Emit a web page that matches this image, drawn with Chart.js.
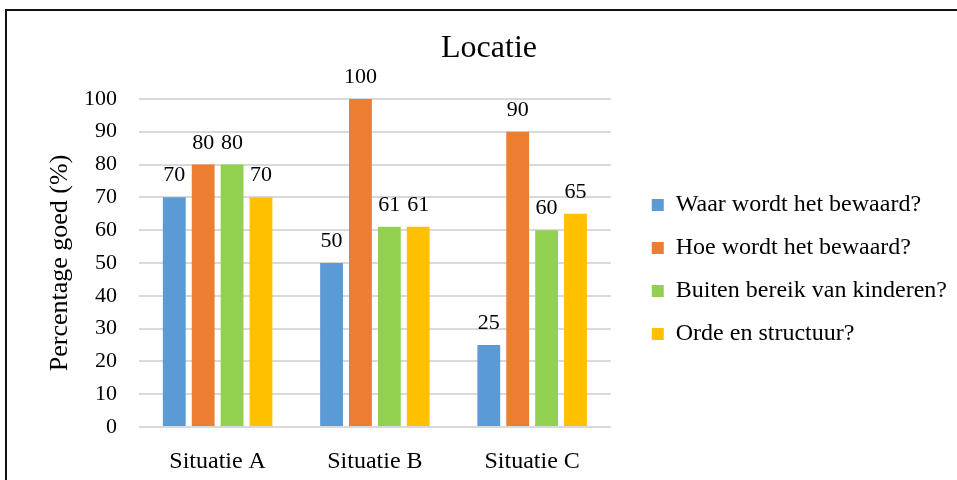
<!DOCTYPE html>
<html lang="nl">
<head>
<meta charset="utf-8">
<title>Locatie</title>
<script src="https://cdn.jsdelivr.net/npm/chart.js@4"></script>
<style>
  html, body { margin: 0; padding: 0; background: #fff; overflow: hidden; width: 957px; height: 480px; }
  #frame {
    position: absolute; left: 5px; top: 9px;
    width: 964px; height: 486px;
    border: 2px solid #111;
    background: #fff;
  }
  #chart { display: block; }
</style>
</head>
<body>
<div id="frame"><canvas id="chart" width="964" height="486"></canvas></div>
<script>
// Categories and series
const categories = ['Situatie A', 'Situatie B', 'Situatie C'];
const seriesNames = [
  'Waar wordt het bewaard?',
  'Hoe wordt het bewaard?',
  'Buiten bereik van kinderen?',
  'Orde en structuur?'
];
const waarValues   = [70, 50, 25];
const hoeValues    = [80, 100, 90];
const buitenValues = [80, 61, 60];
const ordeValues   = [70, 61, 65];
const seriesColors = ['#5B9BD5', '#ED7D31', '#92D050', '#FFC000'];

// Value axis range
const yMin = 0;
const yMax = 100;
const yStep = 10;

const serif = "'Liberation Serif', 'Times New Roman', serif";

// Writes each bar's value just above it
const valueLabels = {
  id: 'valueLabels',
  afterDatasetsDraw(chart, args, opts) {
    const { ctx } = chart;
    ctx.save();
    ctx.font = opts.font;
    ctx.fillStyle = opts.color;
    ctx.textAlign = 'center';
    ctx.textBaseline = 'alphabetic';
    chart.data.datasets.forEach((ds, i) => {
      const meta = chart.getDatasetMeta(i);
      if (meta.hidden) return;
      meta.data.forEach((bar, j) => {
        ctx.fillText(String(ds.data[j]), bar.x, bar.y - opts.offset);
      });
    });
    ctx.restore();
  }
};

// Nudges the legend block after layout
const legendOffset = {
  id: 'legendOffset',
  afterLayout(chart, args, opts) {
    const lg = chart.legend;
    if (!lg) return;
    lg.left += opts.x; lg.right += opts.x;
    lg.top += opts.y; lg.bottom += opts.y;
  }
};

const seriesValues = [waarValues, hoeValues, buitenValues, ordeValues];

new Chart(document.getElementById('chart'), {
  type: 'bar',
  data: {
    labels: categories,
    datasets: seriesNames.map((name, i) => ({
      label: name,
      data: seriesValues[i],
      backgroundColor: seriesColors[i],
      borderWidth: 0,
      barPercentage: 0.79,
      categoryPercentage: 0.735
    }))
  },
  plugins: [valueLabels, legendOffset],
  options: {
    responsive: false,
    animation: false,
    devicePixelRatio: 1,
    layout: { padding: 0 },
    scales: {
      x: {
        grid: { display: false },
        border: { display: false },
        ticks: {
          color: '#000',
          padding: 12,
          font: { family: serif, size: 24 }
        },
        afterFit(scale) { scale.height = 70; }
      },
      y: {
        min: yMin,
        max: yMax,
        grid: { color: '#d9d9d9', lineWidth: 2, drawTicks: false },
        border: { display: false },
        ticks: {
          stepSize: yStep,
          color: '#000',
          padding: 22,
          font: { family: serif, size: 22 }
        },
        title: {
          display: true,
          text: 'Percentage goed (%)',
          color: '#000',
          font: { family: serif, size: 26 },
          padding: { top: 37.5, bottom: 0 }
        },
        afterFit(scale) { scale.width = 132; }
      },
      // empty gap between the plot and the legend
      gap: {
        type: 'linear',
        position: 'right',
        display: true,
        grid: { display: false },
        border: { display: false },
        ticks: { display: false },
        afterFit(scale) { scale.width = 36; }
      }
    },
    plugins: {
      title: {
        display: true,
        text: 'Locatie',
        color: '#000',
        font: { family: serif, size: 32, weight: 'normal' },
        padding: { top: 18.5, bottom: 31 }
      },
      legend: {
        position: 'right',
        maxWidth: 400,
        labels: {
          color: '#000',
          boxWidth: 12,
          boxHeight: 12,
          padding: 19,
          font: { family: serif, size: 24 }
        }
      },
      tooltip: { enabled: false },
      valueLabels: { font: '22px ' + serif, color: '#000', offset: 16 },
      legendOffset: { x: -14, y: 15.5 }
    }
  }
});
</script>
</body>
</html>
